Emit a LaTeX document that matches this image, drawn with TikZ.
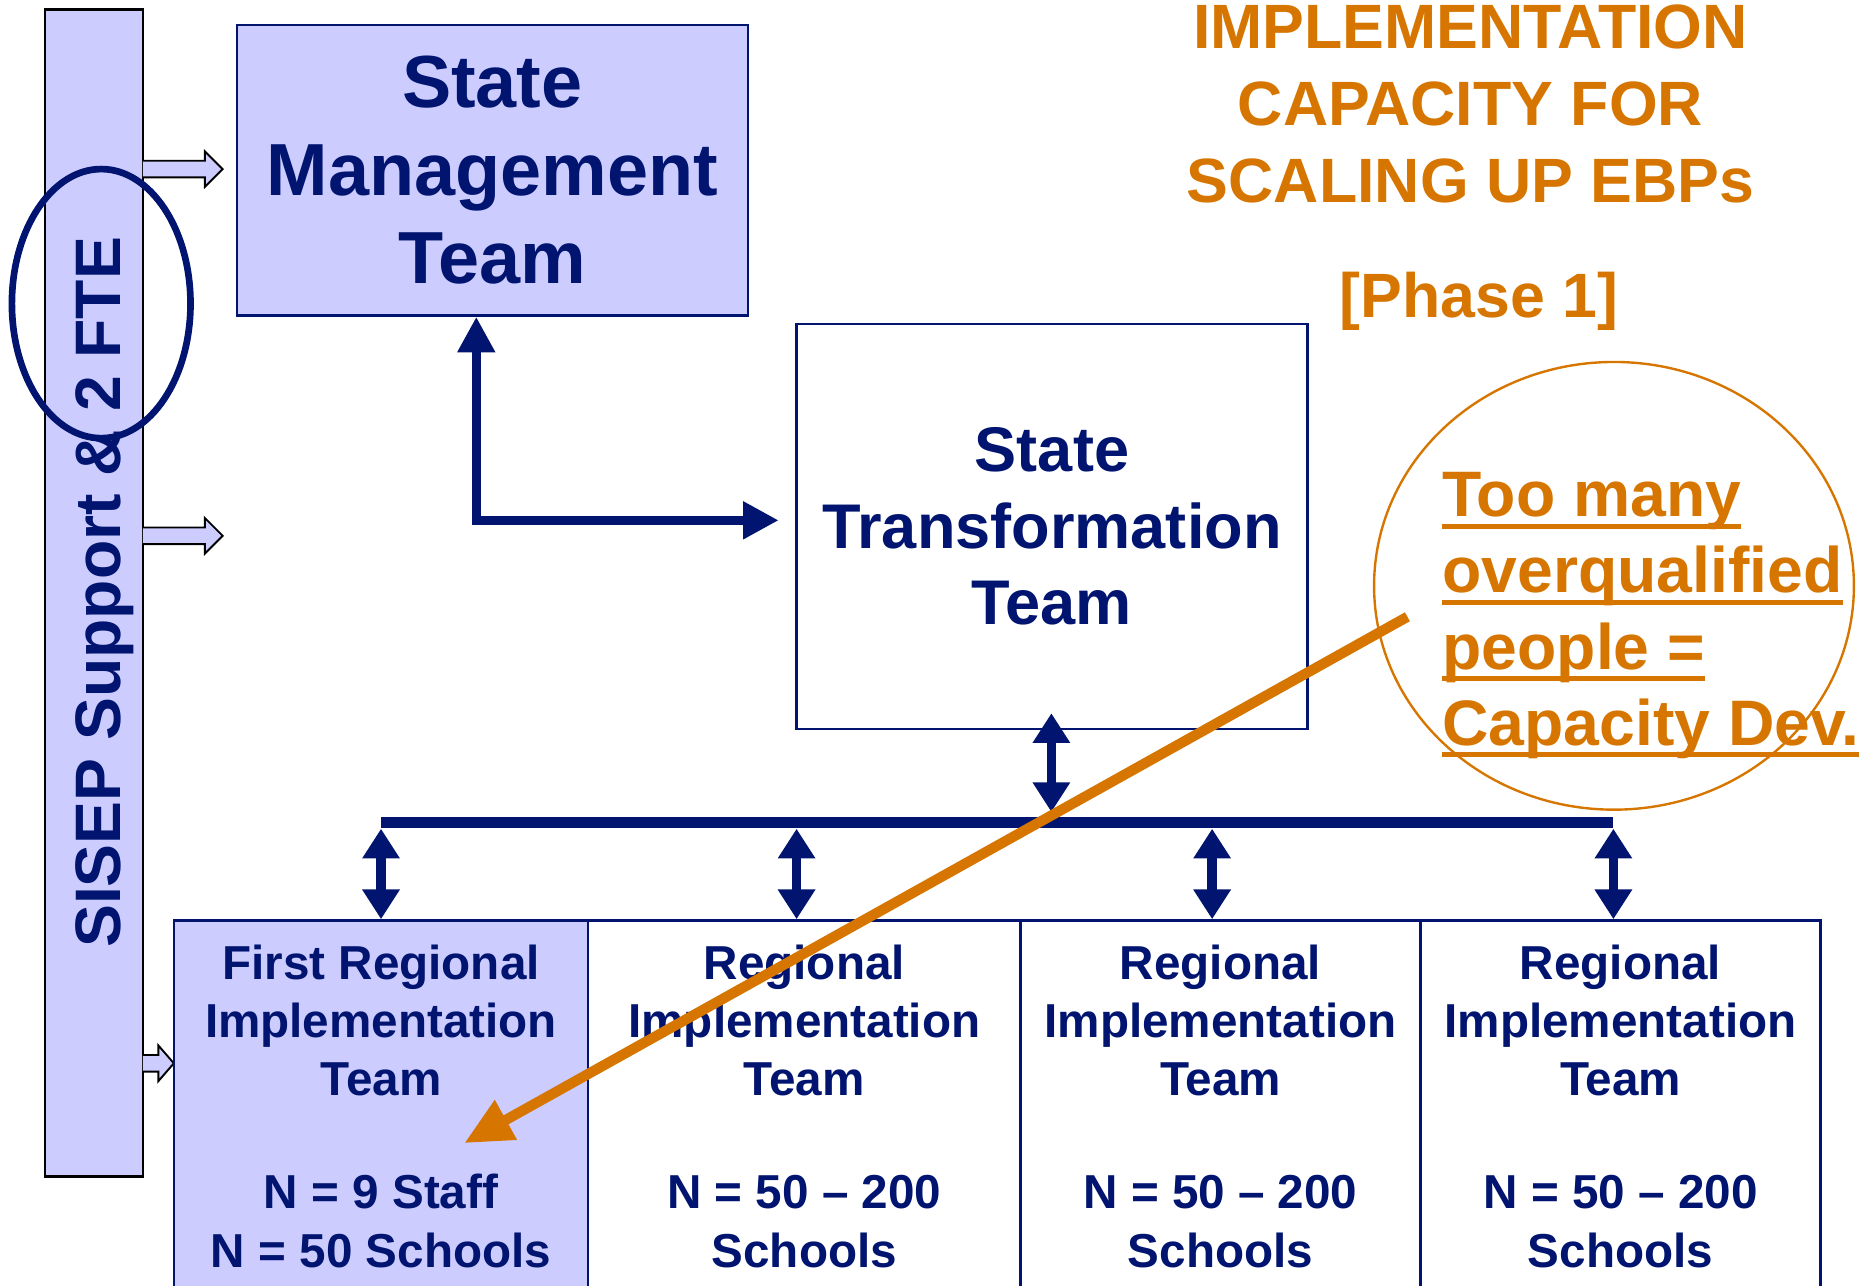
\documentclass[tikz,border=0pt]{standalone}
\usepackage{fontspec}
\setmainfont{Liberation Sans}
\usetikzlibrary{arrows.meta,shapes.geometric}
\definecolor{navy}{RGB}{0,20,112}
\definecolor{lav}{RGB}{204,204,255}
\definecolor{org}{RGB}{214,118,0}
\newcommand\myul[1]{\setbox0\hbox{#1}\rlap{\rule[-5pt]{\wd0}{2pt}}\box0}
\begin{document}
\begin{tikzpicture}[x=0.5pt,y=-0.5pt,
  box/.style={draw=navy, line width=1pt, rectangle, inner sep=0pt},
  txt/.style={text=navy, align=center},
  navyarr/.style={draw=navy, line width=4pt, -{Triangle[length=15pt,width=15pt]}},
  dbl/.style={draw=navy, line width=4pt, {Triangle[length=12.5pt,width=15pt]}-{Triangle[length=12.5pt,width=15pt]}},
  blockarr/.style={fill=lav, draw=black, line width=0.8pt},
  orgtxt/.style={text=org, font=\bfseries\fontsize{26.3}{32.25}\selectfont}
]
\useasboundingbox (0,0) rectangle (1568,1080);

% SISEP bar
\node[draw=black, line width=1pt, fill=lav, minimum width=41pt, minimum height=490pt, inner sep=0pt] (bar) at (79,498) {};
\node[text=navy, font=\bfseries\fontsize{27}{32}\selectfont, rotate=90, anchor=base] (sisep) at (101,497.5) {SISEP Support \& 2 FTE};
\node[draw=navy, line width=2.8pt, ellipse, minimum width=75pt, minimum height=113pt, inner sep=0pt] (fte) at (85,255) {};

% block arrows
\draw[blockarr] (120,135) -- (172,135) -- (172,127) -- (187,142) -- (172,157) -- (172,149) -- (120,149);
\draw[blockarr] (120,443) -- (172,443) -- (172,435) -- (187,450) -- (172,465) -- (172,457) -- (120,457);
\draw[blockarr] (120,886) -- (133,886) -- (133,878) -- (146,893) -- (133,908) -- (133,900) -- (120,900);

% State Management Team
\node[box, fill=lav, minimum width=214.5pt, minimum height=122pt, txt, font=\bfseries\fontsize{31}{37}\selectfont] (smt) at (413.5,143) {State\\Management\\Team};

% State Transformation Team
\node[box, fill=white, minimum width=214.5pt, minimum height=170pt, txt, font=\bfseries\fontsize{26.5}{32}\selectfont] (stt) at (883.5,442) {State\\Transformation\\Team};

% SMT <-> STT
\coordinate (c1) at (400,437);
\draw[navyarr, {Triangle[length=15pt,width=15pt]}-{Triangle[length=15pt,width=15pt]}, line join=miter] (smt.south -| c1) -- (c1) -- ([xshift=-7pt]c1 -| stt.west);

% bottom boxes
\node[box, fill=lav, minimum width=174pt, minimum height=156pt] (r1) at (320,929) {};
\node[box, fill=white, minimum width=181.5pt, minimum height=156pt] (r2) at (675.5,929) {};
\node[box, fill=white, minimum width=168pt, minimum height=156pt] (r3) at (1025,929) {};
\node[box, fill=white, minimum width=168pt, minimum height=156pt] (r4) at (1361,929) {};

\tikzset{rtxt/.style={txt, font=\bfseries\fontsize{20}{24.5}\selectfont}}
\node[rtxt] (r1t) at (320,929) {First Regional\\Implementation\\Team\\[23pt]N = 9 Staff\\N = 50 Schools};
\node[rtxt] (r2t) at (675.5,929) {Regional\\Implementation\\Team\\[23pt]N = 50 -- 200\\Schools};
\node[rtxt] (r3t) at (1025,929) {Regional\\Implementation\\Team\\[23pt]N = 50 -- 200\\Schools};
\node[rtxt] (r4t) at (1361,929) {Regional\\Implementation\\Team\\[23pt]N = 50 -- 200\\Schools};

% bus
\coordinate (b1) at (320,691);
\coordinate (b2) at (669,691);
\coordinate (b3) at (1018,691);
\coordinate (b4) at (1355,691);
\draw[draw=navy, line width=4.5pt] (b1) -- (b4);
\draw[dbl] ([yshift=-2.5pt]b1) -- (b1 |- r1.north);
\draw[dbl] ([yshift=-2.5pt]b2) -- (b2 |- r2.north);
\draw[dbl] ([yshift=-2.5pt]b3) -- (b3 |- r3.north);
\draw[dbl] ([yshift=-2.5pt]b4) -- (b4 |- r4.north);
\coordinate (s1) at (883,599);
\coordinate (s2) at (883,682);
\draw[dbl] (s1) -- (s2);

% title
\node[orgtxt, anchor=base] (t1) at (1235,41) {IMPLEMENTATION};
\node[orgtxt, anchor=base] (t2) at (1235,105) {CAPACITY FOR};
\node[orgtxt, anchor=base] (t3) at (1235,170) {SCALING UP EBPs};
\node[orgtxt, anchor=base] (t4) at (1242,267) {[Phase 1]};

% orange note
\node[draw=org, line width=1pt, ellipse, minimum width=201.5pt, minimum height=188pt, inner sep=0pt] (note) at (1355.5,492) {};
\node[text=org, font=\bfseries\fontsize{27}{32}\selectfont, align=left, anchor=west, inner sep=0pt] (notet) at (1211,517) {\myul{Too many}\\\myul{overqualified}\\\myul{people =}\\\myul{Capacity Dev.}};

% orange arrow
\coordinate (o1) at (1182,518);
\coordinate (o2) at (390,960);
\draw[draw=org, fill=org, line width=4.3pt, -{Triangle[length=20pt,width=18pt]}] (o1) -- (o2);
\end{tikzpicture}
\end{document}
